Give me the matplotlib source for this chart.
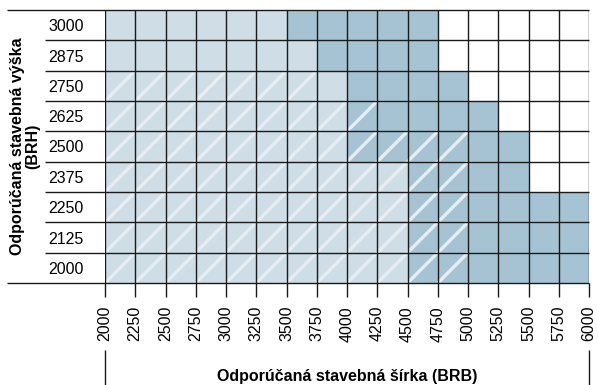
import matplotlib.pyplot as plt
import matplotlib.transforms as mtransforms

plt.rcParams['font.family'] = ['Liberation Sans', 'DejaVu Sans']

# stavebna sirka (BRB) - hranice stlpcov
brb = [2000, 2250, 2500, 2750, 3000, 3250, 3500, 3750, 4000,
       4250, 4500, 4750, 5000, 5250, 5500, 5750, 6000]
# stavebna vyska (BRH) - riadky zdola nahor
brh = [2000, 2125, 2250, 2375, 2500, 2625, 2750, 2875, 3000]
# po aku sirku je bunka svetla / tmava / srafovana
light_to = [4500, 4500, 4500, 4500, 4000, 4000, 4000, 3750, 3500]
dark_to = [6000, 6000, 6000, 5500, 5500, 5250, 5000, 4750, 4750]
hatch_to = [5000, 5000, 5000, 5000, 5000, 4250, 3750, 2000, 2000]

light = '#cedde6'
dark = '#a6c3d3'
step = 250

fig = plt.figure(figsize=(5.98, 3.85), dpi=100)
ax = fig.add_axes([105 / 598, 102 / 385, 484 / 598, 273 / 385])

for i, h in enumerate(brh):
    lefts = [x for x in brb[:-1] if x + step <= dark_to[i]]
    cols = [light if x + step <= light_to[i] else dark for x in lefts]
    ax.barh(i, [step] * len(lefts), left=lefts, height=1, color=cols,
            edgecolor='none', zorder=1)
    # biele diagonaly v srafovanych bunkach
    for x in lefts:
        if x + step <= hatch_to[i]:
            ax.plot([x, x + step], [i - 0.5, i + 0.5], color='#e6eef3',
                    lw=2.4, solid_capstyle='butt', zorder=2)

ax.set_xlim(brb[0], brb[-1])
ax.set_ylim(-0.5, len(brh) - 0.5)

# mriezka
ax.vlines(brb, -0.5, len(brh) - 0.5, color='#1a1a1a', lw=1.0, zorder=3)
trans = mtransforms.blended_transform_factory(ax.transAxes, ax.transData)
n = len(brh)
ax.hlines([-0.5, n - 0.5], -98 / 484, 1, transform=trans,
          color='#1a1a1a', lw=1.0, zorder=3, clip_on=False)
ax.hlines([y - 0.5 for y in range(1, n)], -60 / 484, 1, transform=trans,
          color='#1a1a1a', lw=1.0, zorder=3, clip_on=False)

# krajne zvisle ciary pod popiskami
trans_x = mtransforms.blended_transform_factory(ax.transData, ax.transAxes)
ax.vlines([brb[0], brb[-1]], -0.375, -0.245, transform=trans_x,
          color='#1a1a1a', lw=1.0, clip_on=False)

for s in ax.spines.values():
    s.set_visible(False)

ax.set_xticks(brb)
ax.set_xticklabels([str(v) for v in brb], rotation=90, fontsize=11.5,
                   va='top')
ax.tick_params(axis='x', length=10, width=1.0, color='#1a1a1a', pad=6.5,
               direction='out')
ax.set_yticks(range(len(brh)))
ax.set_yticklabels([str(v) for v in brh], fontsize=11.5)
for lbl in ax.get_yticklabels():
    lbl.set_horizontalalignment('left')
ax.tick_params(axis='y', length=0, pad=41)

ax.set_xlabel('Odporúčaná stavebná šírka (BRB)', fontsize=11.5,
              fontweight='bold', va='center')
ax.xaxis.set_label_coords(0.5, -0.344)
ax.set_ylabel('Odporúčaná stavebná výška\n(BRH)', fontsize=11.5,
              fontweight='bold', va='center', multialignment='center',
              linespacing=1.05)
ax.yaxis.set_label_coords(-80 / 484, 0.5)

fig.savefig('out.png', dpi=100)
